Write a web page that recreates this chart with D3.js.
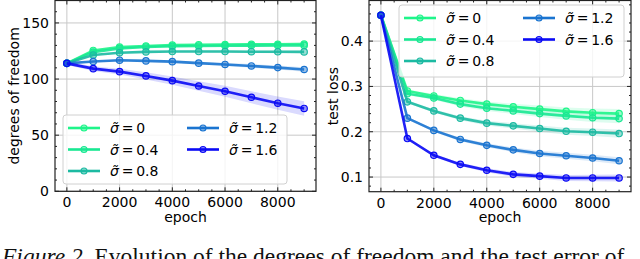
<!DOCTYPE html>
<html><head><meta charset="utf-8">
<script src="https://cdn.jsdelivr.net/npm/d3@7"></script>
<style>body{margin:0;background:#fff}svg{display:block}</style>
</head><body>
<script>
const epochs = [0,1000,2000,3000,4000,5000,6000,7000,8000,9000];
const sigmaLabels = ["0","0.4","0.8","1.2","1.6"];
const colors = ["#1ef58a","#18e892","#1cbaa2","#1a74d0","#0a0af5"];
// degrees of freedom
const dof0  = [114,125.5,128.5,129.5,130.2,130.6,130.8,131,131,131.2];
const dof04 = [114,124,127.3,128.6,129.2,129.5,129.7,129.8,129.9,130];
const dof08 = [114,121.5,123.5,124.2,124.5,124.5,124.5,124.4,124.3,124.2];
const dof12 = [114,115.6,116.8,116.2,115.5,114.2,113,111.7,110.2,108.5];
const dof16 = [114,109.3,106.6,102.8,98.6,93.8,89.1,83.8,78.5,73.8];
const dofStd = [1,1,1,1.5,5];
// test loss
const loss0  = [0.457,0.290,0.279,0.269,0.261,0.255,0.250,0.245,0.242,0.240];
const loss04 = [0.457,0.284,0.2745,0.261,0.252,0.246,0.240,0.235,0.231,0.229];
const loss08 = [0.457,0.266,0.246,0.230,0.219,0.213,0.207,0.201,0.199,0.196];
const loss12 = [0.457,0.230,0.203,0.183,0.170,0.160,0.152,0.147,0.142,0.136];
const loss16 = [0.457,0.185,0.148,0.128,0.115,0.106,0.102,0.098,0.098,0.098];
const lossStd = [0.008,0.008,0.007,0.006,0.006];
const xTicks = [0,2000,4000,6000,8000];
const dofTicks = [0,50,100,150];
const lossTicks = [0.1,0.2,0.3,0.4];

const dofSeries = [dof0,dof04,dof08,dof12,dof16];
const lossSeries = [loss0,loss04,loss08,loss12,loss16];

const svg = d3.select("body").append("svg").attr("width",640).attr("height",259);
const FONT = "DejaVu Sans";
const FS = 14;

function panel(opts){
  const {x0,x1,y0,y1,ydom,series,stds,yticks,ymajor,yminorStep,yfmt,ylabel,ylabelX,legend} = opts;
  const x = d3.scaleLinear().domain([-450,9450]).range([x0,x1]);
  const y = d3.scaleLinear().domain(ydom).range([y1,y0]);
  const g = svg.append("g");
  const clipId = "clip"+x0;
  svg.append("clipPath").attr("id",clipId).append("rect").attr("x",x0).attr("y",y0).attr("width",x1-x0).attr("height",y1-y0);
  // grid
  xTicks.forEach(t=>g.append("line").attr("x1",x(t)).attr("x2",x(t)).attr("y1",y0).attr("y2",y1).attr("stroke","#c8c8c8").attr("stroke-width",1));
  yticks.forEach(t=>g.append("line").attr("x1",x0).attr("x2",x1).attr("y1",y(t)).attr("y2",y(t)).attr("stroke","#c8c8c8").attr("stroke-width",1));
  const dg = g.append("g").attr("clip-path",`url(#${clipId})`);
  series.forEach((s,i)=>{
    const area = d3.area().x((d,j)=>x(epochs[j])).y0((d,j)=>y(d - stds[i]*(j/9+0.3))).y1((d,j)=>y(d + stds[i]*(j/9+0.3)));
    dg.append("path").attr("d",area(s)).attr("fill",colors[i]).attr("opacity",0.15);
  });
  series.forEach((s,i)=>{
    const line = d3.line().x((d,j)=>x(epochs[j])).y(d=>y(d));
    dg.append("path").attr("d",line(s)).attr("fill","none").attr("stroke",colors[i]).attr("stroke-width",2.6).attr("opacity",0.9);
    s.forEach((d,j)=>dg.append("circle").attr("cx",x(epochs[j])).attr("cy",y(d)).attr("r",3.2)
      .attr("fill",colors[i]).attr("fill-opacity",0.45).attr("stroke",colors[i]).attr("stroke-width",1.2));
  });
  // frame
  g.append("rect").attr("x",x0).attr("y",y0).attr("width",x1-x0).attr("height",y1-y0).attr("fill","none").attr("stroke","#222").attr("stroke-width",1.2);
  // ticks inward on all sides
  const tk = g.append("g").attr("stroke","#222").attr("stroke-width",1);
  d3.range(0,9451,500).forEach(t=>{
    const L = (t%2000===0)?4:2;
    tk.append("line").attr("x1",x(t)).attr("x2",x(t)).attr("y1",y1).attr("y2",y1-L);
    tk.append("line").attr("x1",x(t)).attr("x2",x(t)).attr("y1",y0).attr("y2",y0+L);
  });
  const ymin = Math.ceil(ydom[0]/yminorStep-1e-9)*yminorStep;
  for(let v=ymin; v<=ydom[1]+1e-9; v+=yminorStep){
    const vv = Math.round(v/yminorStep)*yminorStep;
    const isMaj = Math.abs(vv/ymajor - Math.round(vv/ymajor))<1e-6;
    const L = isMaj?4:2;
    tk.append("line").attr("x1",x0).attr("x2",x0+L).attr("y1",y(vv)).attr("y2",y(vv));
    tk.append("line").attr("x1",x1).attr("x2",x1-L).attr("y1",y(vv)).attr("y2",y(vv));
  }
  // tick labels
  xTicks.forEach(t=>g.append("text").attr("x",x(t)).attr("y",y1+16).attr("text-anchor","middle")
    .attr("font-family",FONT).attr("font-size",FS).text(t));
  yticks.forEach(t=>g.append("text").attr("x",x0-6).attr("y",y(t)+5).attr("text-anchor","end")
    .attr("font-family",FONT).attr("font-size",FS).text(yfmt(t)));
  g.append("text").attr("x",(x0+x1)/2).attr("y",222).attr("text-anchor","middle").attr("font-family",FONT).attr("font-size",FS).text("epoch");
  g.append("text").attr("transform",`translate(${ylabelX},${(y0+y1)/2}) rotate(-90)`).attr("text-anchor","middle")
    .attr("font-family",FONT).attr("font-size",FS).text(ylabel);
  // legend
  const L = legend;
  g.append("rect").attr("x",L.x).attr("y",L.y).attr("width",L.w).attr("height",L.h).attr("rx",3)
    .attr("fill","#fff").attr("fill-opacity",0.8).attr("stroke","#d0d0d0").attr("stroke-width",1);
  sigmaLabels.forEach((lab,i)=>{
    const col = i<3?0:1, row = i<3?i:i-3;
    const lx = L.x + (col?L.col2:5), ly = L.y + 13 + row*21.5;
    g.append("line").attr("x1",lx).attr("x2",lx+32).attr("y1",ly).attr("y2",ly).attr("stroke",colors[i]).attr("stroke-width",2.6);
    g.append("circle").attr("cx",lx+16).attr("cy",ly).attr("r",3).attr("fill",colors[i]).attr("fill-opacity",0.45).attr("stroke",colors[i]).attr("stroke-width",1.2);
    const t = g.append("text").attr("x",lx+42).attr("y",ly+5).attr("font-family",FONT).attr("font-size",14);
    t.append("tspan").attr("font-style","italic").text("σ\u0303");
    t.append("tspan").text("\u2009=\u2009"+lab);
  });
}

panel({x0:55,x1:316,y0:0.5,y1:191.3,ydom:[0,170],series:dofSeries,stds:dofStd,yticks:dofTicks,ymajor:50,yminorStep:10,
  yfmt:d=>d, ylabel:"degrees of freedom", ylabelX:19,
  legend:{x:63,y:115,w:224,h:69,col2:124}});
panel({x0:369,x1:631,y0:0.5,y1:191.7,ydom:[0.0677,0.4896],series:lossSeries,stds:lossStd,yticks:lossTicks,ymajor:0.1,yminorStep:0.02,
  yfmt:d3.format(".1f"), ylabel:"test loss", ylabelX:338,
  legend:{x:399,y:5,w:225,h:72,col2:124}});

// caption (cut off at bottom, as in the reference)
const cap = svg.append("text").attr("x",2).attr("y",264).attr("font-family","Liberation Serif").attr("font-size",23.5).attr("fill","#111");
cap.append("tspan").attr("font-style","italic").text("Figure 2.");
cap.append("tspan").text(" Evolution of the degrees of freedom and the test error of");
</script>
</body></html>
